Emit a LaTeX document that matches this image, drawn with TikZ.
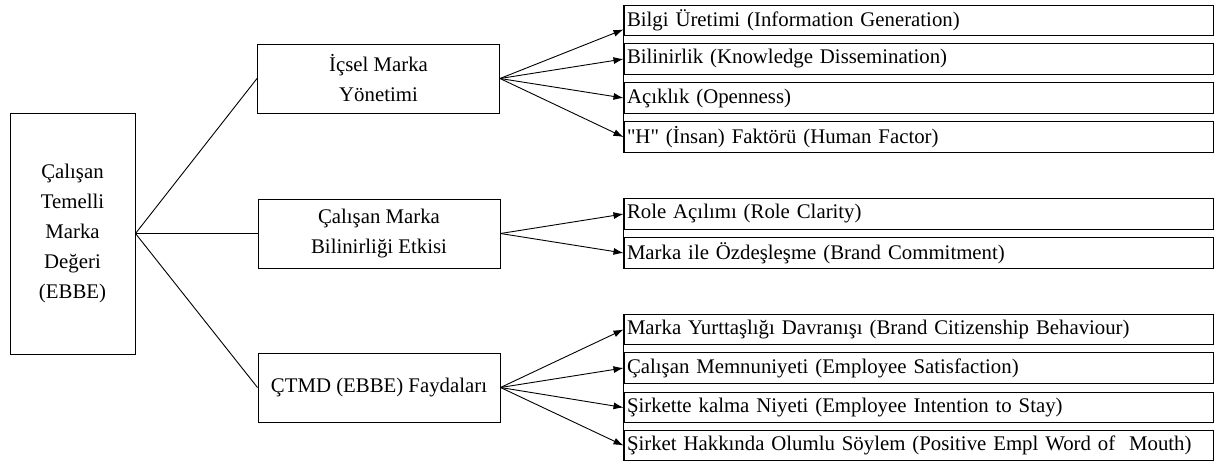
\documentclass[tikz,border=0pt]{standalone}
\usepackage{fontspec}
\setmainfont{Liberation Serif}[Ligatures=TeXOff]
\usetikzlibrary{arrows.meta}

\begin{document}
\begin{tikzpicture}[x=1pt,y=-1pt,
  box/.style={draw, line width=1pt, inner sep=0pt, font=\fontsize{20.8}{30}\selectfont},
  rootbox/.style={box, minimum width=125pt, minimum height=241pt, align=center},
  midbox/.style={box, minimum width=242pt, minimum height=69pt, align=center},
  itembox/.style={box, minimum height=30.5pt, text width=583pt, inner xsep=3pt, align=left},
  link/.style={line width=0.9pt},
  arr/.style={line width=0.9pt, -{Latex[length=10pt,width=7pt]}}]
\useasboundingbox (0,0) rectangle (1224,461);

% root concept
\node[rootbox] (root) at (72.5,233.5) {Çalışan\\ Temelli\\ Marka\\ Değeri\\ (EBBE)};

% second level
\node[midbox] (ic)  at (378.5,78.5)  {İçsel Marka\\ Yönetimi};
\node[midbox] (cm)  at (379,233.5)   {Çalışan Marka\\ Bilinirliği Etkisi};
\node[midbox] (fay) at (379,387.5)   {ÇTMD (EBBE) Faydaları};

% outcomes of internal brand management
\node[itembox] (r1) at (918.5,20.5) {Bilgi Üretimi (Information Generation)};
\node[itembox] (r2) at (918.5,59)   {Bilinirlik (Knowledge Dissemination)};
\node[itembox] (r3) at (918.5,98)   {Açıklık (Openness)};
\node[itembox] (r4) at (918.5,137)  {\textquotedbl H\textquotedbl{} (İnsan) Faktörü (Human Factor)};

% outcomes of brand awareness
\node[itembox] (m1) at (918.5,214) {Role Açılımı (Role Clarity)};
\node[itembox] (m2) at (918.5,253) {Marka ile Özdeşleşme (Brand Commitment)};

% benefits
\node[itembox] (b1) at (918.5,329.5) {Marka Yurttaşlığı Davranışı (Brand Citizenship Behaviour)};
\node[itembox] (b2) at (918.5,368)   {Çalışan Memnuniyeti (Employee Satisfaction)};
\node[itembox] (b3) at (918.5,407.5) {Şirkette kalma Niyeti (Employee Intention to Stay)};
\node[itembox] (b4) at (918.5,445.5) {Şirket Hakkında Olumlu Söylem (Positive Empl Word of~ Mouth)};

% shared left rules of the outcome lists
\draw[line width=1pt] (r1.north west) -- (r4.south west);
\draw[line width=1pt] (m1.north west) -- (m2.south west);
\draw[line width=1pt] (b1.north west) -- (b4.south west);

% root to second level
\draw[link] (root.east) -- (ic.west);
\draw[link] (root.east) -- (cm.west);
\draw[link] (root.east) -- (fay.west);

% second level to outcomes
\draw[arr] (ic.east) -- ([yshift=-9pt]r1.west);
\draw[arr] (ic.east) -- (r2.west);
\draw[arr] (ic.east) -- (r3.west);
\draw[arr] (ic.east) -- (r4.west);

\draw[arr] (cm.east) -- (m1.west);
\draw[arr] (cm.east) -- (m2.west);

\draw[arr] (fay.east) -- (b1.west);
\draw[arr] (fay.east) -- (b2.west);
\draw[arr] (fay.east) -- (b3.west);
\draw[arr] (fay.east) -- (b4.west);
\end{tikzpicture}
\end{document}
